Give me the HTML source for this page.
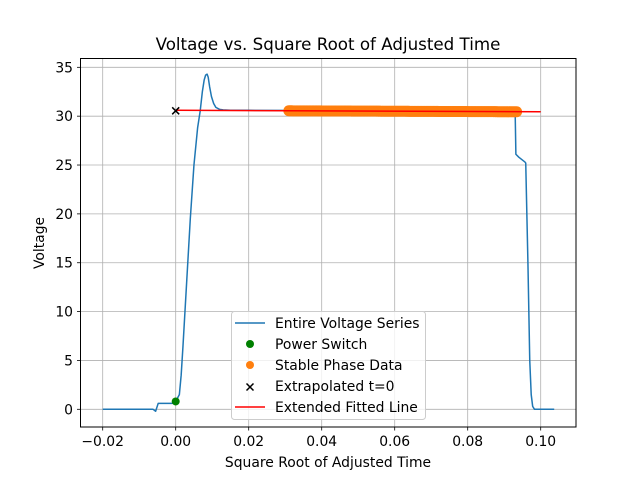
<!DOCTYPE html>
<html><head><meta charset="utf-8"><style>
body{margin:0;background:#fff}
svg{display:block;font-family:"DejaVu Sans","Liberation Sans",sans-serif}
</style></head><body>
<svg id="chart" width="640" height="480" viewBox="0 0 640 480">
<rect width="640" height="480" fill="#fff"/>
<g id="grid"></g>
<g id="series"></g>
<rect x="80.5" y="58.5" width="495.5" height="368.5" fill="none" stroke="#000" stroke-width="1"/>
<g id="ticks" font-size="13.9"></g>
<text x="328" y="50" text-anchor="middle" font-size="16.7">Voltage vs. Square Root of Adjusted Time</text>
<text x="328" y="467" text-anchor="middle" font-size="13.9">Square Root of Adjusted Time</text>
<text transform="translate(44,243) rotate(-90)" text-anchor="middle" font-size="13.9">Voltage</text>
<g id="legend" font-size="13.9">
<rect x="231.5" y="311.5" width="194" height="108" rx="3" fill="#fff" fill-opacity="0.8" stroke="#ccc"/>
<g><line x1="235" y1="323" x2="265" y2="323" stroke="#1f77b4" stroke-width="1.5"/><text x="275" y="328">Entire Voltage Series</text></g>
<g><circle cx="250" cy="344" r="4" fill="green"/><text x="275" y="349">Power Switch</text></g>
<g><circle cx="250" cy="365" r="4" fill="#ff7f0e"/><text x="275" y="370">Stable Phase Data</text></g>
<g><path d="M246.5 383.5 L253.5 390.5 M253.5 383.5 L246.5 390.5" stroke="#000" stroke-width="1.5"/><text x="275" y="391">Extrapolated t=0</text></g>
<g><line x1="235" y1="407" x2="265" y2="407" stroke="red" stroke-width="1.5"/><text x="275" y="412">Extended Fitted Line</text></g>
</g>
</svg>
<script>
const xTicks=[-0.02,0,0.02,0.04,0.06,0.08,0.10];
const xTickLabels=["−0.02","0.00","0.02","0.04","0.06","0.08","0.10"];
const yTicks=[0,5,10,15,20,25,30,35];
const seriesT=[-0.02,-0.0062,-0.0055,-0.0048,-0.003,-0.001,0,0.001,0.0015,0.002,0.003,0.004,0.005,0.006,0.0067,0.0073,0.0078,0.0082,0.0086,0.0089,0.0093,0.0098,0.0104,0.011,0.012,0.013,0.015,0.02,0.04,0.06,0.08,0.093,0.0932,0.094,0.0957,0.0959,0.0965,0.097,0.0974,0.0978,0.0983,0.1037];
const seriesV=[0,0,-0.2,0.6,0.6,0.6,0.8,1.5,3.5,6.5,13,19.5,25,28.8,30.5,32.5,33.7,34.2,34.3,34.0,33.0,32.0,31.3,30.9,30.7,30.65,30.6,30.6,30.58,30.55,30.5,30.5,26.1,25.8,25.3,25.2,15,5,1.5,0.3,0,0];
const stableStart=0.031, stableEnd=0.0935;
const stableV0=30.55, stableV1=30.45;
const switchT=0, switchV=0.8;
const extrapT=0, extrapV=30.55;
const fitT=[0,0.1];
const fitV=[30.6,30.45];

const X=t=>175.7+t*3650;
const Y=v=>409.3-v*9.771;
const NS="http://www.w3.org/2000/svg";
const mk=(tag,attrs,parent)=>{const e=document.createElementNS(NS,tag);for(const k in attrs)e.setAttribute(k,attrs[k]);parent.appendChild(e);return e;};
const grid=document.getElementById('grid'),ticks=document.getElementById('ticks'),series=document.getElementById('series');
xTicks.forEach((t,i)=>{
  const gl=mk('line',{x1:X(t),x2:X(t),y1:58.5,y2:427,stroke:'#b0b0b0','stroke-width':0.8},grid);
  
  
  mk('line',{x1:X(t),x2:X(t),y1:427,y2:430.5,stroke:'#000','stroke-width':0.8},ticks);
  const tx=mk('text',{x:X(t),y:446,'text-anchor':'middle'},ticks);
  tx.textContent=xTickLabels[i];
  
  
});
yTicks.forEach(v=>{
  const gl=mk('line',{x1:80.5,x2:576,y1:Y(v),y2:Y(v),stroke:'#b0b0b0','stroke-width':0.8},grid);
  
  
  mk('line',{x1:77,x2:80.5,y1:Y(v),y2:Y(v),stroke:'#000','stroke-width':0.8},ticks);
  const tx=mk('text',{x:73,y:Y(v)+5,'text-anchor':'end'},ticks);
  tx.textContent=String(v);
  
  
});
const vl=mk('polyline',{points:seriesT.map((t,i)=>X(t)+','+Y(seriesV[i])).join(' '),fill:'none',stroke:'#1f77b4','stroke-width':1.5,'stroke-linejoin':'round'},series);


const sg=mk('g',{},series);


for(let t=stableStart;t<=stableEnd+1e-9;t+=0.0004){
  const v=stableV0+(stableV1-stableV0)*(t-stableStart)/(stableEnd-stableStart);
  const c=mk('circle',{cx:X(t),cy:Y(v),r:5.5,fill:'#ff7f0e'},sg);
  
  
}
const fl=mk('line',{x1:X(fitT[0]),y1:Y(fitV[0]),x2:X(fitT[1]),y2:Y(fitV[1]),stroke:'red','stroke-width':1.5},series);


const ps=mk('circle',{cx:X(switchT),cy:Y(switchV),r:4,fill:'green'},series);


const ex=X(extrapT),ey=Y(extrapV);
const xm=mk('path',{d:`M${ex-3.5} ${ey-3.5} L${ex+3.5} ${ey+3.5} M${ex+3.5} ${ey-3.5} L${ex-3.5} ${ey+3.5}`,stroke:'#000','stroke-width':1.5},series);


</script>
</body></html>
